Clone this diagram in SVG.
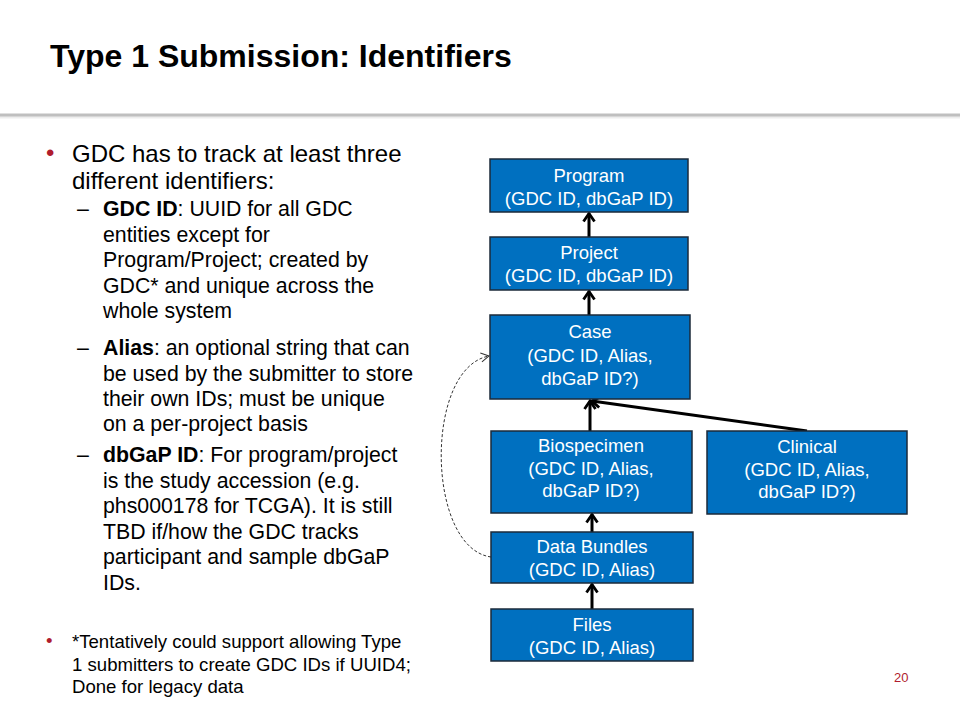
<svg xmlns="http://www.w3.org/2000/svg" width="960" height="720" viewBox="0 0 960 720">
  <style>
    text { font-family: "Liberation Sans", Arial, sans-serif; }
    .title { font-size: 32px; font-weight: bold; fill: #000; }
    .l1 { font-size: 24px; fill: #000; }
    .l2 { font-size: 21.3px; fill: #000; }
    .l3 { font-size: 18.6px; fill: #000; }
    .b { font-weight: bold; }
    .bullet { fill: #B01C2E; }
    .box { fill: #0070C0; stroke: #1B2A3A; stroke-width: 1.5; }
    .bt { font-size: 18.5px; fill: #fff; text-anchor: middle; }
    .conn { stroke: #000; stroke-width: 3; fill: none; }
    .dash { stroke: #333; stroke-width: 1; fill: none; stroke-dasharray: 3 2; }
  </style>
  <defs>
    <marker id="arr" markerUnits="userSpaceOnUse" viewBox="-12 -7 14 14" refX="0" refY="0" markerWidth="14" markerHeight="14" orient="auto">
      <path d="M-8,-5.5 L0,0 L-8,5.5" fill="none" stroke="#000" stroke-width="2.8"/>
    </marker>
    <marker id="arrs" markerUnits="userSpaceOnUse" viewBox="-10 -6 12 12" refX="0" refY="0" markerWidth="12" markerHeight="12" orient="auto">
      <path d="M-8,-4.5 L0,0 L-8,4.5" fill="none" stroke="#333" stroke-width="1"/>
    </marker>
  </defs>
  <rect width="960" height="720" fill="#fff"/>

  <g id="header">
    <text class="title" x="50" y="67">Type 1 Submission: Identifiers</text>
    <line x1="0" y1="117" x2="960" y2="117" stroke="#EDEDED" stroke-width="3"/>
    <line x1="0" y1="115" x2="960" y2="115" stroke="#BFBFBF" stroke-width="3"/>
  </g>

  <g id="body">
    <text class="l1 bullet" x="46" y="161">•</text>
    <text class="l1" x="72" y="162">GDC has to track at least three</text>
    <text class="l1" x="72" y="189">different identifiers:</text>

    <text class="l2" x="77" y="216">–</text>
    <text class="l2" x="103" y="216"><tspan class="b">GDC ID</tspan>: UUID for all GDC</text>
    <text class="l2" x="103" y="241.5">entities except for</text>
    <text class="l2" x="103" y="267">Program/Project; created by</text>
    <text class="l2" x="103" y="292.5">GDC* and unique across the</text>
    <text class="l2" x="103" y="318">whole system</text>

    <text class="l2" x="77" y="355">–</text>
    <text class="l2" x="103" y="355"><tspan class="b">Alias</tspan>: an optional string that can</text>
    <text class="l2" x="103" y="380.5">be used by the submitter to store</text>
    <text class="l2" x="103" y="406">their own IDs; must be unique</text>
    <text class="l2" x="103" y="431">on a per-project basis</text>

    <text class="l2" x="77" y="462">–</text>
    <text class="l2" x="103" y="462"><tspan class="b">dbGaP ID</tspan>: For program/project</text>
    <text class="l2" x="103" y="487.5">is the study accession (e.g.</text>
    <text class="l2" x="103" y="513">phs000178 for TCGA).  It is still</text>
    <text class="l2" x="103" y="538.5">TBD if/how the GDC tracks</text>
    <text class="l2" x="103" y="564">participant and sample dbGaP</text>
    <text class="l2" x="103" y="589.5">IDs.</text>

    <text class="l3 bullet" x="46" y="647">•</text>
    <text class="l3" x="72" y="648">*Tentatively could support allowing Type</text>
    <text class="l3" x="72" y="671">1 submitters to create GDC IDs if UUID4;</text>
    <text class="l3" x="72" y="693">Done for legacy data</text>
  </g>

  <g id="connectors">
    <line class="conn" x1="589" y1="237" x2="589" y2="213.5" marker-end="url(#arr)"/>
    <line class="conn" x1="589" y1="315" x2="589" y2="291.5" marker-end="url(#arr)"/>
    <line class="conn" x1="590" y1="431" x2="590" y2="401" marker-end="url(#arr)"/>
    <line class="conn" x1="807" y1="431" x2="592" y2="401" marker-end="url(#arr)"/>
    <line class="conn" x1="592" y1="532" x2="592" y2="514.5" marker-end="url(#arr)"/>
    <line class="conn" x1="592" y1="609" x2="592" y2="584.5" marker-end="url(#arr)"/>
    <path class="dash" d="M491,557 C426,548 424,368 489,356" marker-end="url(#arrs)"/>
  </g>

  <g id="program">
    <rect class="box" x="490" y="159" width="198" height="53"/>
    <text class="bt" x="589" y="182">Program</text>
    <text class="bt" x="589" y="205">(GDC ID, dbGaP ID)</text>
  </g>
  <g id="project">
    <rect class="box" x="490" y="237" width="198" height="53"/>
    <text class="bt" x="589" y="259">Project</text>
    <text class="bt" x="589" y="282">(GDC ID, dbGaP ID)</text>
  </g>
  <g id="case">
    <rect class="box" x="490" y="315" width="200" height="84"/>
    <text class="bt" x="590" y="338">Case</text>
    <text class="bt" x="590" y="362">(GDC ID, Alias,</text>
    <text class="bt" x="590" y="385">dbGaP ID?)</text>
  </g>
  <g id="biospecimen">
    <rect class="box" x="491" y="431" width="201" height="82"/>
    <text class="bt" x="591" y="452">Biospecimen</text>
    <text class="bt" x="591" y="475">(GDC ID, Alias,</text>
    <text class="bt" x="591" y="497">dbGaP ID?)</text>
  </g>
  <g id="clinical">
    <rect class="box" x="707" y="431" width="200" height="83"/>
    <text class="bt" x="807" y="453">Clinical</text>
    <text class="bt" x="807" y="476">(GDC ID, Alias,</text>
    <text class="bt" x="807" y="498">dbGaP ID?)</text>
  </g>
  <g id="databundles">
    <rect class="box" x="491" y="532" width="202" height="51"/>
    <text class="bt" x="592" y="553">Data Bundles</text>
    <text class="bt" x="592" y="576">(GDC ID, Alias)</text>
  </g>
  <g id="files">
    <rect class="box" x="491" y="609" width="202" height="52"/>
    <text class="bt" x="592" y="631">Files</text>
    <text class="bt" x="592" y="654">(GDC ID, Alias)</text>
  </g>

  <text x="894" y="682" font-size="13" fill="#B01C2E" font-family="Liberation Sans, Arial, sans-serif">20</text>
</svg>
